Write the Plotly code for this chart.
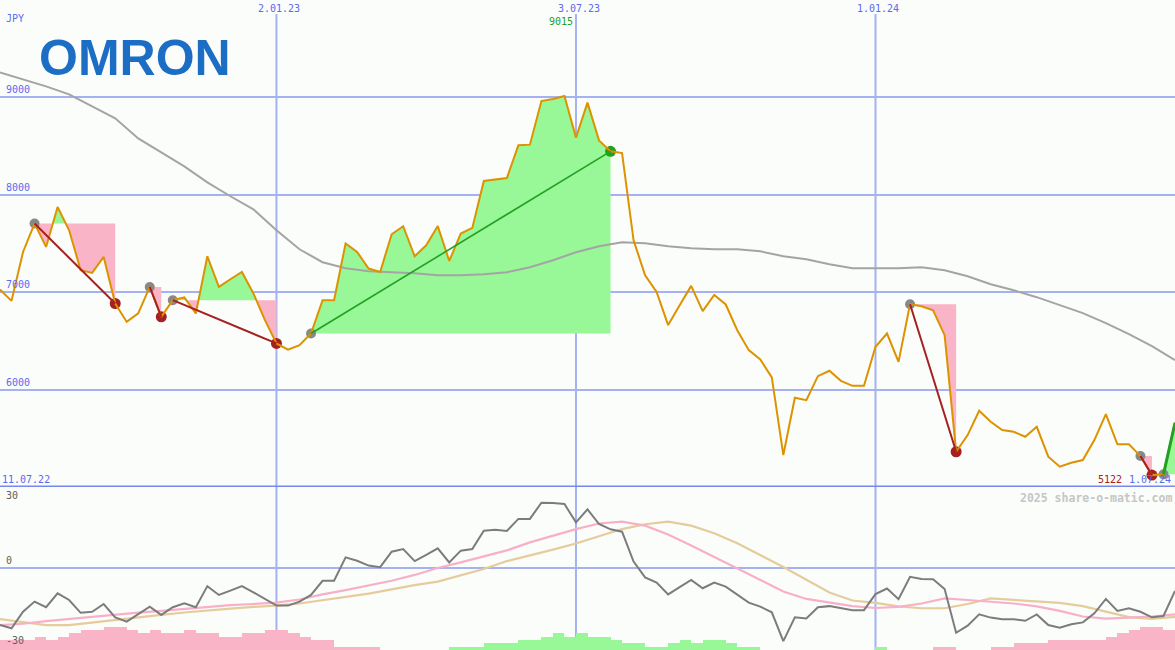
import pandas as pd
import plotly.graph_objects as go

# ---------------- data ----------------
dates = pd.date_range("2022-07-18", periods=103, freq="7D")

price = [7028, 6911, 7413, 7705, 7465, 7875, 7636, 7226, 7198, 7362,
         6884, 6695, 6782, 7054, 6747, 6918, 6946, 6782, 7369, 7054,
         7133, 7208, 6987, 6713, 6474, 6410, 6456, 6576, 6918, 6918,
         7500, 7413, 7243, 7208, 7595, 7677, 7369, 7482, 7680, 7321,
         7602, 7660, 8142, 8159, 8172, 8508, 8515, 8962, 8983, 9015,
         8587, 8946, 8559, 8446, 8429, 7533, 7174, 7003, 6662, 6867,
         7065, 6805, 6972, 6874, 6610, 6405, 6310, 6125, 5328, 5916,
         5892, 6138, 6193, 6090, 6039, 6039, 6439, 6576, 6285, 6877,
         6856, 6815, 6559, 5362, 5533, 5783, 5670, 5585, 5567, 5516,
         5618, 5311, 5208, 5249, 5277, 5482, 5749, 5438, 5438, 5318,
         5122, 5130, 5660]

# long moving average (every second week)
ma_dates = dates[::2]
ma = [9256, 9185, 9113, 9031, 8908, 8785, 8579, 8436, 8292, 8128,
      7985, 7851, 7636, 7441, 7308, 7246, 7215, 7205, 7195, 7174,
      7174, 7185, 7205, 7256, 7328, 7410, 7472, 7513, 7503, 7472,
      7451, 7441, 7441, 7420, 7369, 7338, 7287, 7246, 7246, 7246,
      7256, 7226, 7164, 7082, 7020, 6949, 6867, 6785, 6682, 6569,
      6446, 6303]

# lower panel: momentum (weekly)
mom = [-21.4, -22.6, -16.4, -12.6, -14.7, -9.5, -12.0, -16.8, -16.4, -13.5,
       -18.5, -20.1, -17.3, -14.5, -17.6, -14.7, -13.2, -14.7, -6.8, -10.1,
       -8.5, -6.8, -9.1, -11.6, -14.1, -14.1, -12.6, -10.1, -4.8, -4.8,
       4.0, 2.7, 0.9, 0.3, 6.1, 7.1, 2.6, 4.9, 7.4, 2.1,
       6.5, 7.1, 14.0, 14.3, 13.9, 18.4, 18.4, 24.5, 24.4, 24.0,
       17.1, 22.0, 16.5, 14.5, 13.6, 2.4, -3.5, -5.5, -9.9, -7.2,
       -4.5, -7.6, -5.5, -7.0, -10.1, -13.0, -14.5, -16.6, -27.4, -18.5,
       -18.9, -14.7, -14.3, -15.1, -15.8, -15.8, -9.8, -7.7, -11.7, -3.3,
       -4.1, -4.2, -7.9, -24.3, -21.6, -17.4, -18.6, -19.2, -19.2, -19.8,
       -17.4, -21.4, -22.4, -21.1, -20.4, -17.0, -11.6, -16.1, -15.1, -16.4,
       -18.5, -18.0, -8.6]

# smooth signal lines (every second week)
sig_dates = dates[::2]
sig_pink = [-21.4, -20.9, -19.9, -19.1, -18.2, -17.3, -16.7, -16.1, -15.4, -14.8,
            -13.9, -13.5, -13.0, -11.8, -9.9, -8.3, -6.5, -4.8, -2.6, 0.0,
            2.1, 4.3, 6.6, 9.6, 12.2, 14.6, 16.7, 17.4, 15.9, 12.6,
            8.4, 4.1, -0.2, -4.5, -8.8, -11.6, -13.0, -14.3, -15.0, -14.6,
            -13.3, -11.4, -12.0, -12.6, -13.3, -14.4, -16.1, -18.2, -19.0, -18.6,
            -18.2, -17.4]
sig_tan = [-19.2, -20.4, -21.4, -21.4, -20.4, -19.5, -18.6, -17.6, -16.7, -15.9,
           -15.2, -14.6, -14.1, -13.3, -12.1, -10.9, -9.6, -8.0, -6.4, -5.1,
           -2.8, -0.4, 2.6, 4.7, 6.9, 9.2, 11.9, 14.6, 16.4, 17.4,
           15.9, 13.0, 9.3, 4.9, 0.4, -4.4, -9.2, -12.2, -13.1, -14.4,
           -15.1, -15.1, -13.5, -11.4, -11.9, -12.4, -13.1, -14.3, -16.3, -18.4,
           -19.1, -18.3]

# histogram (weekly, first 102 weeks)
hist_dates = dates[:102]
hist = [-3, -3, -3, -4, -3, -4, -5, -6, -6, -7,
        -7, -6, -5, -6, -5, -5, -6, -5, -5, -4,
        -4, -5, -5, -6, -6, -5, -4, -3, -3, -1,
        -1, -1, -1, 0, 0, 0, 0, 0, 0, 1,
        1, 1, 2, 2, 2, 3, 3, 4, 5, 4,
        5, 4, 4, 3, 2, 2, 1, 1, 2, 3,
        2, 3, 3, 2, 1, 1, 0, 0, 0, 0,
        0, 0, 0, 0, 0, 0, 1, 0, 0, 0,
        0, -1, -1, 0, 0, 0, -1, -1, -2, -2,
        -2, -3, -3, -3, -3, -3, -4, -5, -6, -7,
        -7, -6]

# trend signals
trend_start = [3, 13, 15, 27, 79, 99, 101]
trend_end = [10, 14, 24, 53, 83, 100, 102]
trend_up = [False, False, False, True, False, False, True]
trend_open = [False, False, False, False, False, False, True]

date_lines = ["2023-01-02", "2023-07-03", "2024-01-01"]
date_labels = ["2.01.23", "3.07.23", "1.01.24"]
price_ticks = [6000, 7000, 8000, 9000]

# ---------------- styling ----------------
BG = "#fbfdfb"
GRID = "#a4b2f2"
GRID_DARK = "#7888f0"
LABEL_BLUE = "#5a6af0"
PINK = "#f9b4c8"
GREEN = "#98f898"
ORANGE = "#dd9200"
DARKRED = "#a52020"
DGREEN = "#22a022"
W, H = 1175, 650
LOW_FRAC = 163 / H
MONO = "DejaVu Sans Mono"

fig = go.Figure()


def fill_poly(i0, i1, level, upper):
    xs, ys = [], []
    for i in range(i0, i1 + 1):
        p = price[i]
        if i > i0:
            pp = price[i - 1]
            if (pp - level) * (p - level) < 0:
                f = (level - pp) / (p - pp)
                xs.append(dates[i - 1] + (dates[i] - dates[i - 1]) * f)
                ys.append(level)
        xs.append(dates[i])
        ys.append(max(p, level) if upper else min(p, level))
    xs += [dates[i1], dates[i0]]
    ys += [level, level]
    return xs, ys


# fills
for s, e in zip(trend_start, trend_end):
    lvl = price[s]
    for upper, col in ((True, GREEN), (False, PINK)):
        xs, ys = fill_poly(s, e, lvl, upper)
        fig.add_trace(go.Scatter(x=xs, y=ys, mode="none", fill="toself",
                                 fillcolor=col, hoverinfo="skip", showlegend=False))

# moving average
fig.add_trace(go.Scatter(x=ma_dates, y=ma, mode="lines",
                         line=dict(color="#a4a4a4", width=2), showlegend=False))

# dots
gx = [dates[s] for s in trend_start]
gy = [price[s] for s in trend_start]
fig.add_trace(go.Scatter(x=gx, y=gy, mode="markers",
                         marker=dict(color="#888888", size=10), showlegend=False))
rx = [dates[e] for e, u, o in zip(trend_end, trend_up, trend_open) if not u and not o]
ry = [price[e] for e, u, o in zip(trend_end, trend_up, trend_open) if not u and not o]
fig.add_trace(go.Scatter(x=rx, y=ry, mode="markers",
                         marker=dict(color=DARKRED, size=11), showlegend=False))
ux = [dates[e] for e, u, o in zip(trend_end, trend_up, trend_open) if u and not o]
uy = [price[e] for e, u, o in zip(trend_end, trend_up, trend_open) if u and not o]
fig.add_trace(go.Scatter(x=ux, y=uy, mode="markers",
                         marker=dict(color=DGREEN, size=11), showlegend=False))

# price line
fig.add_trace(go.Scatter(x=dates, y=price, mode="lines",
                         line=dict(color=ORANGE, width=2), showlegend=False))

# trend lines
for s, e, u, o in zip(trend_start, trend_end, trend_up, trend_open):
    col = DGREEN if u else DARKRED
    fig.add_trace(go.Scatter(x=[dates[s], dates[e]], y=[price[s], price[e]], mode="lines",
                             line=dict(color=col, width=3 if o else 1.6 if u else 2),
                             showlegend=False))

# lower panel
hcol = [GREEN if v > 0 else PINK for v in hist]
fig.add_trace(go.Bar(x=hist_dates, y=[abs(v) for v in hist], marker=dict(color=hcol, line=dict(width=0)),
                     width=7 * 86400000, offset=0, yaxis="y3", showlegend=False))
fig.add_trace(go.Scatter(x=sig_dates, y=sig_tan, mode="lines", yaxis="y2",
                         line=dict(color="#e4cc9c", width=2.2), showlegend=False))
fig.add_trace(go.Scatter(x=sig_dates, y=sig_pink, mode="lines", yaxis="y2",
                         line=dict(color="#f8b0c8", width=2.2), showlegend=False))
fig.add_trace(go.Scatter(x=dates, y=mom, mode="lines", yaxis="y2",
                         line=dict(color="#7c7c7c", width=2), showlegend=False))

# ---------------- shapes ----------------
shapes = []
for d in date_lines:
    shapes.append(dict(type="line", xref="x", yref="paper", x0=d, x1=d, y0=0, y1=1 - 14 / H,
                       line=dict(color=GRID, width=2), layer="below"))
shapes.append(dict(type="line", xref="paper", yref="y", x0=0, x1=1, y0=5000, y1=5000,
                   line=dict(color=GRID_DARK, width=3), layer="below"))

# ---------------- annotations ----------------
ann = []
for d, t in zip(date_lines, date_labels):
    ann.append(dict(x=d, xref="x", y=1, yref="paper", yanchor="top", yshift=-1, xshift=3,
                    text=t, showarrow=False, font=dict(family=MONO, size=10, color=LABEL_BLUE)))
for v in price_ticks:
    ann.append(dict(x=4 / W, xref="paper", xanchor="left", y=v, yref="y", yanchor="bottom",
                    text=str(v), showarrow=False, font=dict(family=MONO, size=10, color=LABEL_BLUE)))
ann.append(dict(x=4 / W, xref="paper", xanchor="left", y=1 - 11 / H, yref="paper", yanchor="top",
                text="JPY", showarrow=False, font=dict(family=MONO, size=10, color=LABEL_BLUE)))
ann.append(dict(x=0, xref="paper", xanchor="left", y=5000, yref="y", yanchor="bottom",
                text="11.07.22", showarrow=False,
                font=dict(family=MONO, size=10, color=LABEL_BLUE)))
ann.append(dict(x=date_lines[1], xref="x", xanchor="right", xshift=-1, y=1 - 14 / H, yref="paper",
                yanchor="top", text=str(max(price)), showarrow=False,
                font=dict(family=MONO, size=10, color=DGREEN)))
ann.append(dict(x=1124 / W, xref="paper", xanchor="right", y=5000, yref="y", yanchor="bottom",
                text=str(min(price)), showarrow=False, font=dict(family=MONO, size=10, color=DARKRED)))
ann.append(dict(x=1173 / W, xref="paper", xanchor="right", y=5000, yref="y", yanchor="bottom",
                text="1.07.24", showarrow=False, font=dict(family=MONO, size=10, color=LABEL_BLUE)))
ann.append(dict(x=1174 / W, xref="paper", xanchor="right", y=5000, yref="y", yanchor="top", yshift=-2,
                text="<b>2025 share-o-matic.com</b>", showarrow=False,
                font=dict(family=MONO, size=11.5, color="#c6c6c6")))
for v, anc in ((30, "top"), (0, "bottom"), (-30, "bottom")):
    ann.append(dict(x=4 / W, xref="paper", xanchor="left", y=v, yref="y2", yanchor=anc,
                    text=str(v), showarrow=False, font=dict(family=MONO, size=10, color="#606060")))
ann.append(dict(x=37 / W, xref="paper", xanchor="left", y=1 - 58 / H, yref="paper", yanchor="middle",
                text="<b>OMRON</b>", showarrow=False,
                font=dict(family="Liberation Sans", size=50, color="#1b6ec4")))

fig.update_layout(
    width=W, height=H,
    margin=dict(l=0, r=0, t=0, b=0),
    paper_bgcolor=BG, plot_bgcolor=BG,
    showlegend=False,
    bargap=0,
    xaxis=dict(type="date", range=[dates[0], dates[-1]], visible=False, anchor="y2"),
    yaxis=dict(domain=[LOW_FRAC, 1], range=[5000, 10000], tickvals=price_ticks,
               showticklabels=False, showgrid=True, gridcolor=GRID, gridwidth=2,
               zeroline=False, showline=False, ticks=""),
    yaxis2=dict(domain=[0, LOW_FRAC], range=[-30.75, 30.375], tickvals=[0],
                showticklabels=False, showgrid=True, gridcolor=GRID, gridwidth=2,
                zeroline=False, showline=False, ticks="", anchor="x"),
    yaxis3=dict(overlaying="y2", range=[0, 163 / 3.333], visible=False, anchor="x"),
    shapes=shapes,
    annotations=ann,
)

fig.write_html("out.html", config={"displayModeBar": False},
               post_script="document.body.style.margin='0';document.body.style.overflow='hidden';")
